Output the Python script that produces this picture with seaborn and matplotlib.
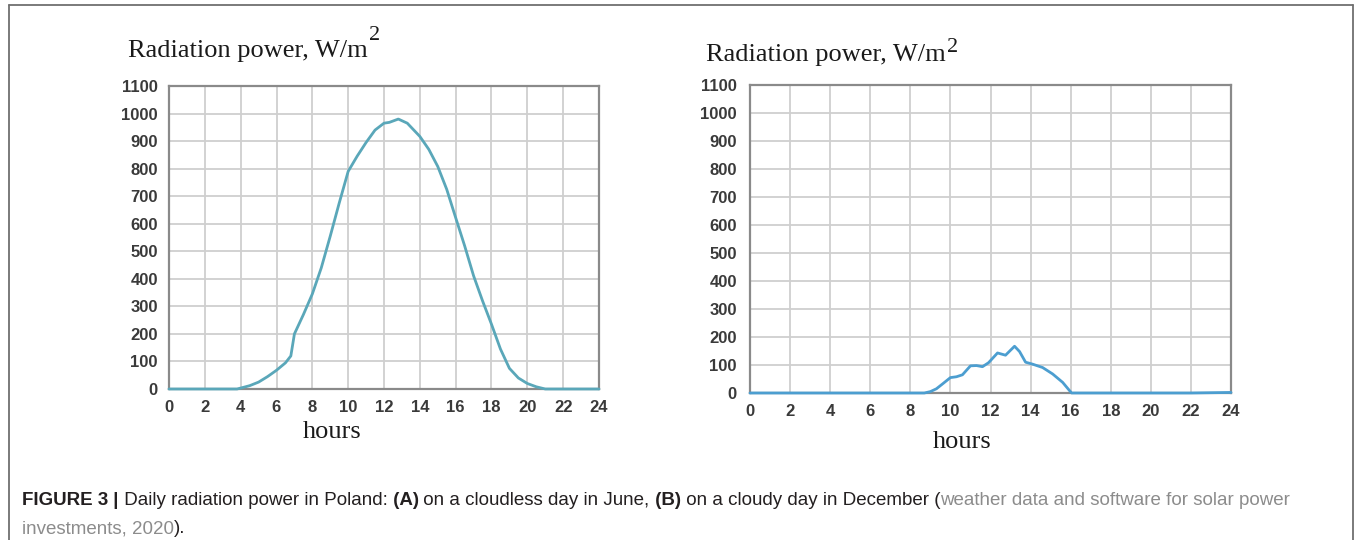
import matplotlib
matplotlib.use("Agg")
import matplotlib.pyplot as plt
import seaborn as sns
from matplotlib.lines import Line2D

# ---------------- data ----------------
hour_ticks = list(range(0, 25, 2))
power_ticks = list(range(0, 1101, 100))

hours_june = [0, 1, 2, 3, 3.8, 4.5, 5, 5.5, 6, 6.5, 6.8, 7.0, 7.5, 8, 8.5, 9, 9.5,
              10, 10.5, 11, 11.5, 12, 12.3, 12.8, 13.3, 14, 14.5, 15, 15.5, 16,
              16.5, 17, 17.5, 18, 18.5, 19, 19.5, 20, 20.5, 21, 22, 23, 24]
power_june = [0, 0, 0, 0, 0, 12, 25, 45, 68, 95, 120, 200, 270, 345, 440, 555, 675,
              790, 845, 895, 940, 965, 968, 980, 965, 917, 870, 808, 725, 622,
              520, 411, 320, 235, 145, 75, 40, 20, 8, 0, 0, 0, 0]

hours_dec = [0, 2, 4, 6, 8, 8.7, 9.0, 9.3, 9.6, 10.0, 10.3, 10.6, 11.0, 11.3, 11.6,
             11.9, 12.35, 12.75, 13.2, 13.45, 13.75, 14.1, 14.6, 15.1, 15.6, 15.95,
             16.05, 18, 20, 22, 24]
power_dec = [0, 0, 0, 0, 0, 0, 5, 15, 32, 55, 58, 65, 97, 98, 94,
             108, 143, 135, 167, 148, 110, 103, 91, 68, 38, 8,
             0, 0, 0, 0, 2]

panel_title = "Radiation power, W/m"
panel_title_sup = "2"
x_label = "hours"

caption_line1 = [("FIGURE 3", "bold", "k"), (" |", "bold", "k"),
                 (" Daily radiation power in Poland:", "normal", "k"),
                 (" (A)", "bold", "k"),
                 (" on a cloudless day in June,", "normal", "k"),
                 (" (B)", "bold", "k"),
                 (" on a cloudy day in December (", "normal", "k"),
                 ("weather data and software for solar power", "normal", "g")]
caption_line2 = [("investments, 2020", "normal", "g"), (").", "normal", "k")]

# ---------------- figure ----------------
W, H = 1355, 540
sns.set_style("white")
plt.rcParams["font.family"] = ["Liberation Sans", "DejaVu Sans"]

fig = plt.figure(figsize=(W / 100, H / 100), dpi=100)
fig.patch.set_facecolor("white")


def rect(l, t, r, b):
    return [l / W, 1 - b / H, (r - l) / W, (b - t) / H]


def ftext(x, y, s, **kw):
    return fig.text(x / W, 1 - y / H, s, **kw)


axA = fig.add_axes(rect(169, 86, 599, 389))
axB = fig.add_axes(rect(750, 85, 1231, 393))

panels = [
    (axA, hours_june, power_june, "#5aa7b9", 8),
    (axB, hours_dec, power_dec, "#4c9ed0", 9.5),
]
for ax, xs, ys, col, ypad in panels:
    sns.lineplot(x=xs, y=ys, ax=ax, color=col, linewidth=2.0, clip_on=False, zorder=3)
    ax.set_xlim(0, 24)
    ax.set_ylim(0, 1100)
    ax.set_xticks(hour_ticks)
    ax.set_yticks(power_ticks)
    ax.set_xticklabels([str(v) for v in hour_ticks])
    ax.set_yticklabels([str(v) for v in power_ticks])
    ax.grid(True, color="#cfcfcf", linewidth=1.3)
    ax.set_axisbelow(True)
    for sp in ax.spines.values():
        sp.set_visible(True)
        sp.set_color("#8a8a8a")
        sp.set_linewidth(1.6)
    ax.tick_params(axis="x", length=0, pad=8, labelsize=12, labelcolor="#3a3a3a")
    ax.tick_params(axis="y", length=0, pad=ypad, labelsize=12, labelcolor="#3a3a3a")
    for lab in ax.get_xticklabels() + ax.get_yticklabels():
        lab.set_fontweight("bold")
    ax.set_xlabel("")
    ax.set_ylabel("")

renderer = fig.canvas.get_renderer()
serif = ["Liberation Serif", "DejaVu Serif"]

# panel titles
for x0, base, sup_base in [(128, 57, 40), (706, 61, 52)]:
    t = ftext(x0, base, panel_title, family=serif, fontsize=19, va="baseline",
              color="#1a1a1a")
    bb = t.get_window_extent(renderer=renderer)
    ftext(x0 + bb.width + 1, sup_base, panel_title_sup, family=serif, fontsize=16,
          va="baseline", color="#1a1a1a")

# x-axis labels
ftext(332, 438, x_label, family=serif, fontsize=19, ha="center", va="baseline",
      color="#1a1a1a")
ftext(962, 448, x_label, family=serif, fontsize=19, ha="center", va="baseline",
      color="#1a1a1a")

# caption
colors = {"k": "#231f20", "g": "#8c8c8c"}


def draw_runs(x, y, parts):
    for s, weight, c in parts:
        t = ftext(x, y, s, fontsize=13.5, fontweight=weight, color=colors[c],
                  va="baseline", family=["Liberation Sans", "DejaVu Sans"])
        bb = t.get_window_extent(renderer=renderer)
        x += bb.width


draw_runs(22, 505, caption_line1)
draw_runs(22, 533, caption_line2)

# outer frame (open at the bottom)
fc = "#6f6f6f"
fig.add_artist(Line2D([9 / W, 9 / W], [0, 1 - 5 / H], transform=fig.transFigure,
                      color=fc, linewidth=1.3))
fig.add_artist(Line2D([9 / W, 1353 / W], [1 - 5 / H, 1 - 5 / H],
                      transform=fig.transFigure, color=fc, linewidth=1.3))
fig.add_artist(Line2D([1353 / W, 1353 / W], [0, 1 - 5 / H], transform=fig.transFigure,
                      color=fc, linewidth=1.3))

fig.savefig("out.png", dpi=100, facecolor="white")
